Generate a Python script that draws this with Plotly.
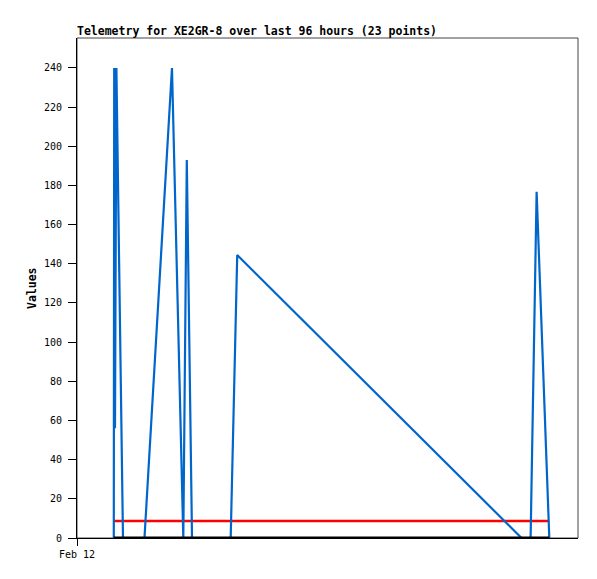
import plotly.graph_objects as go

# Hours since Feb 12 00:00 (x axis spans 96 hours)
hours = [7.05, 7.13, 7.28, 7.55, 8.81,
         12.93, 18.20, 20.37, 21.04, 22.04,
         29.45, 30.70, 37.00, 43.13, 51.37, 64.78, 78.20, 85.18,
         86.92, 88.07, 90.50]
values = [0, 240, 56, 240, 0,
          0, 240, 0, 193, 0,
          0, 144.5, 127.8, 111.5, 89.7, 54.1, 18.6, 0,
          0, 176.8, 0]

threshold_x = [7.05, 90.50]
threshold_y = [8.7, 8.7]
baseline_x = [7.05, 90.50]
baseline_y = [0, 0]

x_tick_vals = [0]
x_tick_text = ["Feb 12"]
y_tick_vals = list(range(0, 241, 20))

title_text = "Telemetry for XE2GR-8 over last 96 hours (23 points)"
y_title = "Values"

fig = go.Figure()
fig.add_trace(go.Scatter(x=threshold_x, y=threshold_y, mode="lines",
                         line=dict(color="#ff0000", width=2.5), showlegend=False))
fig.add_trace(go.Scatter(x=hours, y=values, mode="lines",
                         line=dict(color="#0066cc", width=2.2), showlegend=False))
fig.add_trace(go.Scatter(x=baseline_x, y=baseline_y, mode="lines",
                         line=dict(color="#000000", width=3), showlegend=False))

mono = "DejaVu Sans Mono"
W, H = 597, 579
off = 8  # page body margin

fig.update_layout(
    width=W, height=H,
    margin=dict(l=77 - off, r=W - 578 + off, t=38 - off, b=H - 538 + off),
    paper_bgcolor="white", plot_bgcolor="white",
    title=dict(text="<b>" + title_text + "</b>", x=(77 - off) / W, xanchor="left",
               xref="container", y=1 - (31 - off) / H, yanchor="middle", yref="container",
               font=dict(family=mono, size=11.5, color="#000000")),
    xaxis=dict(range=[0, 96], tickvals=x_tick_vals, ticktext=x_tick_text,
               showgrid=False, zeroline=False, showline=True, linecolor="#000000",
               linewidth=1, ticks="outside", ticklen=7, tickcolor="#000000",
               tickfont=dict(family=mono, size=10, color="#000000")),
    yaxis=dict(range=[0, 255.3], tickvals=y_tick_vals,
               showgrid=False, zeroline=False, showline=True, linecolor="#000000",
               linewidth=1, ticks="outside", ticklen=8, tickcolor="#000000",
               ticklabelstandoff=4,
               tickfont=dict(family=mono, size=10, color="#000000")),
    shapes=[dict(type="rect", xref="paper", yref="paper", x0=0, x1=1, y0=0, y1=1,
                 line=dict(color="#444444", width=1), layer="below")],
    annotations=[dict(text="<b>" + y_title + "</b>", xref="paper", yref="paper",
                      x=-(77 - 32) / 501, y=0.5, textangle=-90, showarrow=False,
                      xanchor="center", yanchor="middle",
                      font=dict(family=mono, size=11.5, color="#000000"))],
)

fig.write_html("out.html")
